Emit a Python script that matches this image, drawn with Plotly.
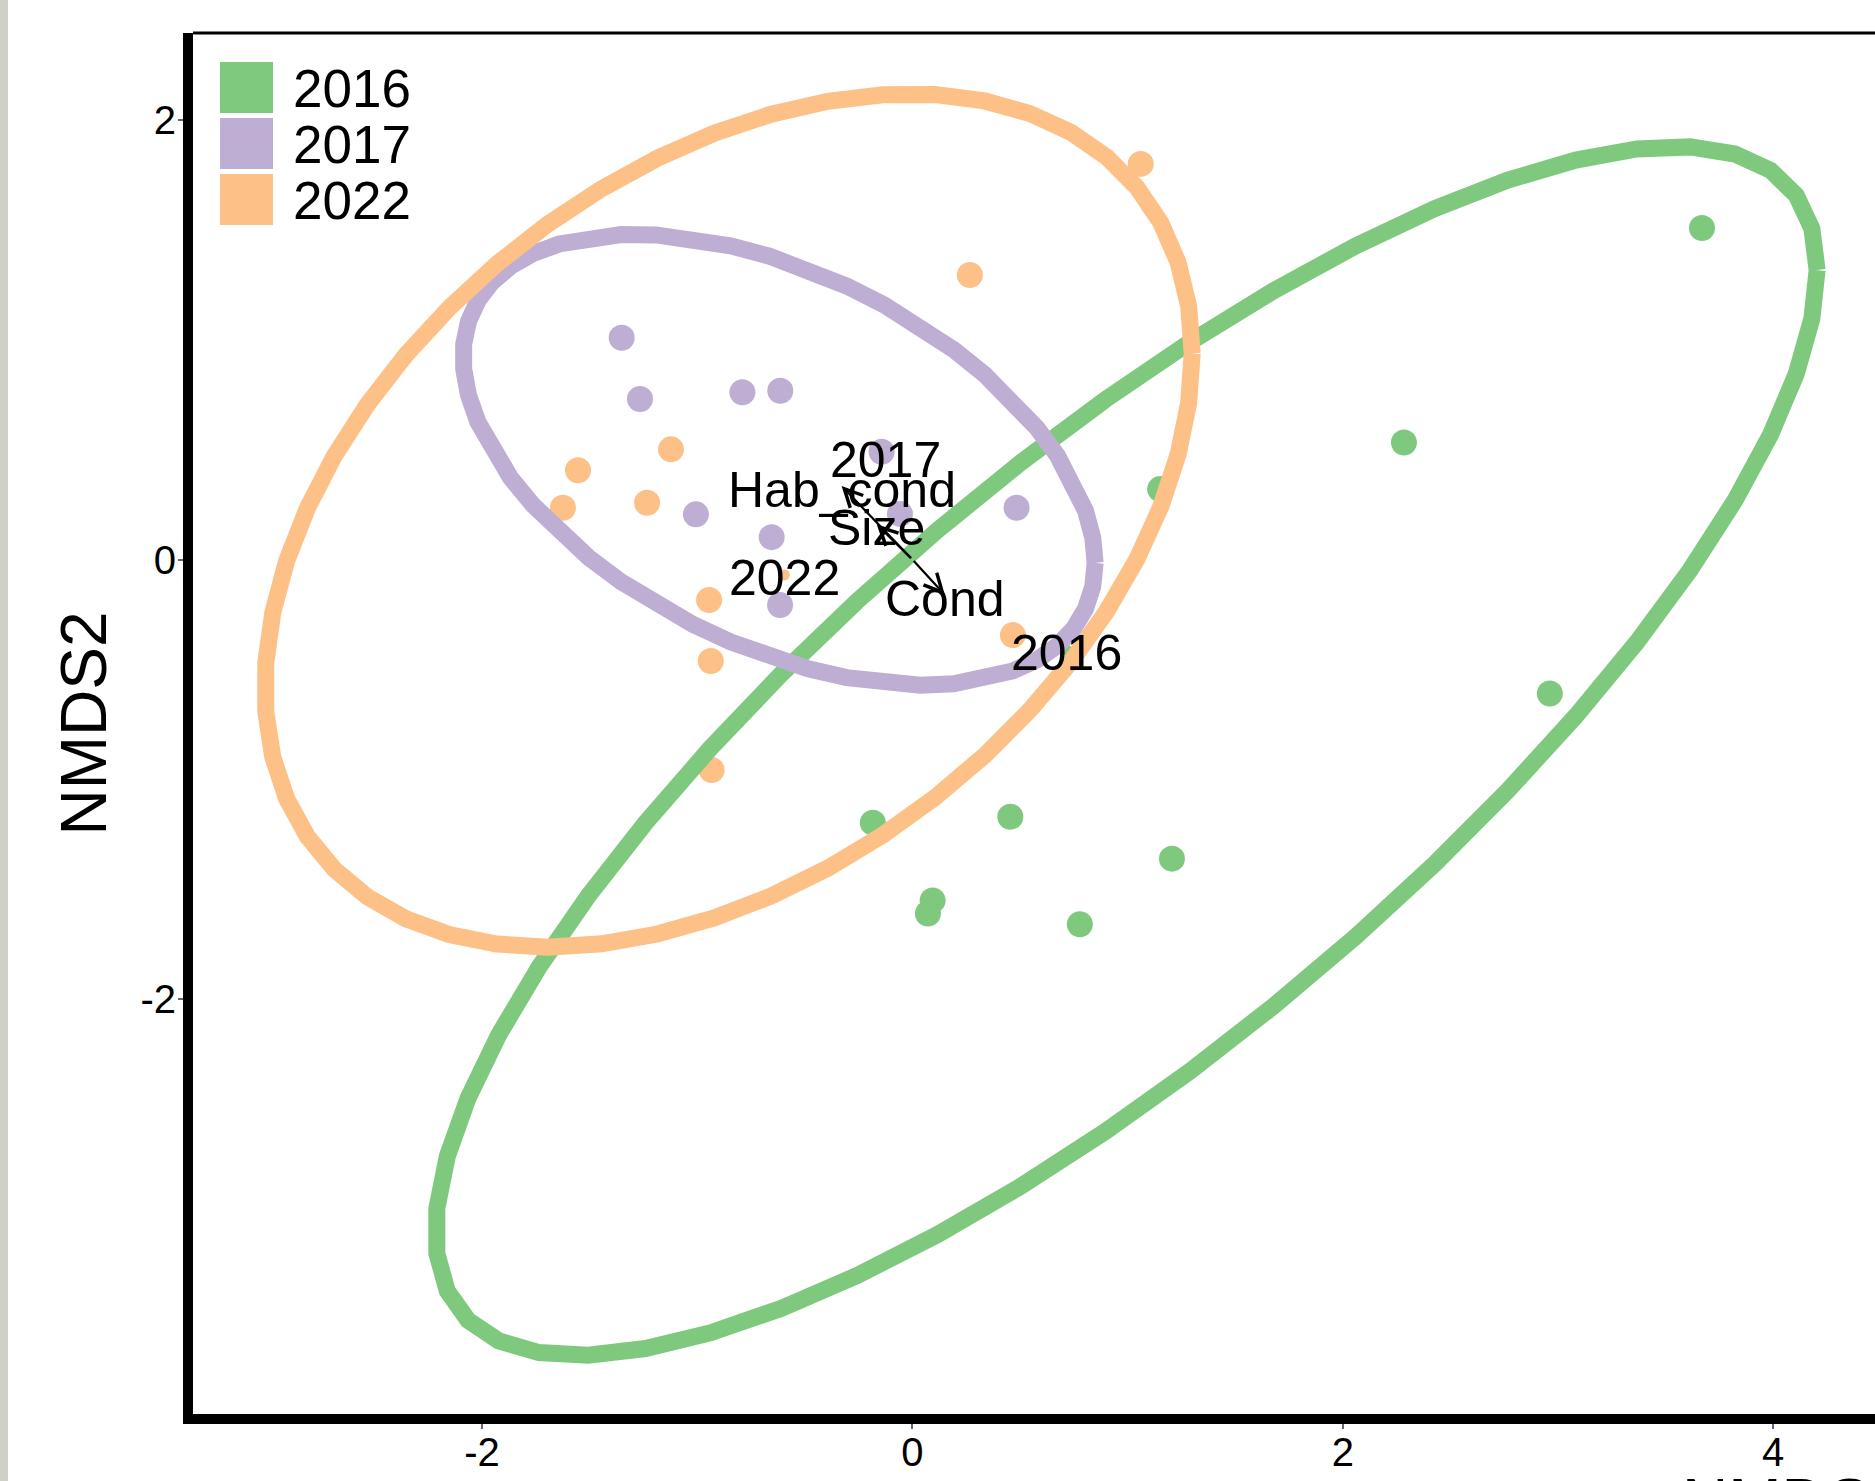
import numpy as np
import plotly.graph_objects as go

# ---- site scores (NMDS1, NMDS2) by survey year ----
years = ["2016", "2017", "2022"]
colors = ["#7FC97F", "#BEAED4", "#FDC086"]

nmds1_2016 = [3.669, 2.284, 2.962, 1.151, -0.184, 0.455, 1.206, 0.094, 0.072, 0.778]
nmds2_2016 = [1.510, 0.533, -0.610, 0.321, -1.198, -1.171, -1.362, -1.552, -1.612, -1.661]

nmds1_2017 = [-1.351, -1.266, -0.790, -0.614, -1.006, -0.654, -0.615, 0.484, -0.143, -0.058]
nmds2_2017 = [1.010, 0.731, 0.762, 0.769, 0.206, 0.102, -0.207, 0.236, 0.491, 0.208]

nmds1_2022 = [1.061, 0.267, -1.122, -1.554, -1.624, -1.233, -0.945, -0.937, -0.933, 0.467]
nmds2_2022 = [1.802, 1.296, 0.502, 0.407, 0.236, 0.259, -0.184, -0.462, -0.958, -0.344]

# ---- year centroids ----
centroid_x = [0.717, -0.127, -0.595]
centroid_y = [-0.412, 0.467, -0.070]

# ---- 95% ellipses: centre and scaled covariance per year ----
ellipse_cx = [0.994, -0.6195, -0.8545]
ellipse_cy = [-0.8715, 0.4548, 0.178]
ellipse_vx = [10.304, 2.1565, 4.642]
ellipse_vy = [7.576, 1.0541, 3.775]
ellipse_cxy = [7.03, -0.69, 1.64]

# ---- environmental vectors (envfit) ----
vector_names = ["Hab_cond", "Size", "Cond"]
vector_x = [-0.329, -0.166, 0.151]
vector_y = [0.335, 0.161, -0.161]

x_ticks = [-2, 0, 2, 4]
y_ticks = [-2, 0, 2]

FONT = "Liberation Sans, Arial, sans-serif"
W, H = 1875, 1481
ML, MR, MT, MB = 193, 0, 33, 67
PW, PH = W - ML - MR, H - MT - MB


def paper_x(px):
    return (px - ML) / PW


def paper_y(py):
    return (H - MB - py) / PH


def ellipse_path(cx, cy, vx, vy, cxy, segments=51):
    """Outline of an ellipse the way stat_ellipse builds it (Cholesky of the covariance)."""
    r = np.linalg.cholesky(np.array([[vx, cxy], [cxy, vy]])).T
    t = np.linspace(0, 2 * np.pi, segments + 1)
    circle = np.column_stack([np.cos(t), np.sin(t)])
    pts = circle @ r + np.array([cx, cy])
    return pts[:, 0], pts[:, 1]


fig = go.Figure()

series = [(nmds1_2016, nmds2_2016), (nmds1_2017, nmds2_2017), (nmds1_2022, nmds2_2022)]
for yr, col, (xs, ys) in zip(years, colors, series):
    fig.add_trace(go.Scatter(
        x=xs, y=ys, mode="markers", name=yr, showlegend=False,
        marker=dict(size=26, color=col, line=dict(width=0)),
    ))

for i, yr in enumerate(years):
    fig.add_trace(go.Scatter(
        x=[centroid_x[i]], y=[centroid_y[i]], mode="markers", showlegend=False,
        marker=dict(size=11, color=colors[i], line=dict(width=0)),
    ))

for i, yr in enumerate(years):
    ex, ey = ellipse_path(ellipse_cx[i], ellipse_cy[i], ellipse_vx[i], ellipse_vy[i], ellipse_cxy[i])
    fig.add_trace(go.Scatter(
        x=ex, y=ey, mode="lines", showlegend=False, hoverinfo="skip",
        line=dict(color=colors[i], width=17),
    ))

annotations = []
# vectors from the origin
for name, vx, vy in zip(vector_names, vector_x, vector_y):
    annotations.append(dict(
        x=vx, y=vy, ax=0, ay=0, xref="x", yref="y", axref="x", ayref="y",
        text="", showarrow=True, arrowhead=5, arrowsize=1.6, arrowwidth=2.2,
        arrowcolor="black", standoff=0, startstandoff=0,
    ))
for name, vx, vy in zip(vector_names, vector_x, vector_y):
    annotations.append(dict(
        x=vx, y=vy, xref="x", yref="y", text=name, showarrow=False, yshift=-4,
        font=dict(family=FONT, size=50, color="black"), xanchor="center", yanchor="middle",
    ))
# year labels at the centroids
for i, yr in enumerate(years):
    annotations.append(dict(
        x=centroid_x[i], y=centroid_y[i], xref="x", yref="y", text=yr, showarrow=False,
        yshift=-3, font=dict(family=FONT, size=50, color="black"),
        xanchor="center", yanchor="middle",
    ))

# axis titles
annotations.append(dict(
    x=paper_x(83), y=0.5, xref="paper", yref="paper", text="NMDS2", showarrow=False,
    textangle=-90, font=dict(family=FONT, size=64, color="black"),
    xanchor="center", yanchor="middle",
))
annotations.append(dict(
    x=paper_x(1680), y=paper_y(1464), xref="paper", yref="paper", text="NMDS1",
    showarrow=False, font=dict(family=FONT, size=64, color="black"),
    xanchor="left", yanchor="top",
))

shapes = []
# key swatches and labels
for i, yr in enumerate(years):
    top = 62 + 56 * i
    shapes.append(dict(
        type="rect", xref="paper", yref="paper",
        x0=paper_x(220), x1=paper_x(273), y0=paper_y(top + 51), y1=paper_y(top),
        fillcolor=colors[i], line=dict(width=0), layer="above",
    ))
    annotations.append(dict(
        x=paper_x(291), y=paper_y(top + 26), xref="paper", yref="paper", text=yr,
        showarrow=False, font=dict(family=FONT, size=53, color="black"),
        xanchor="left", yanchor="middle",
    ))

# thin top frame line
shapes.append(dict(type="line", xref="paper", yref="paper", x0=0, x1=1, y0=1, y1=1,
                   line=dict(color="black", width=3)))
# page edge strip
shapes.append(dict(type="rect", xref="paper", yref="paper",
                   x0=paper_x(0), x1=paper_x(8), y0=paper_y(H), y1=paper_y(0),
                   fillcolor="#D0D0C9", line=dict(width=0)))

fig.update_layout(
    width=W, height=H,
    margin=dict(l=ML, r=MR, t=MT, b=MB, pad=0),
    paper_bgcolor="white", plot_bgcolor="white",
    showlegend=False,
    annotations=annotations, shapes=shapes,
    font=dict(family=FONT, color="black"),
)
fig.update_xaxes(
    range=[-3.343, 4.473], tickvals=x_ticks, ticktext=[str(v) for v in x_ticks],
    showgrid=False, zeroline=False, showline=True, linewidth=10, linecolor="black",
    ticks="outside", ticklen=5, tickwidth=2, tickcolor="#666666", ticklabelstandoff=-11,
    tickfont=dict(family=FONT, size=40, color="black"), mirror=False,
)
fig.update_yaxes(
    range=[-3.891, 2.398], tickvals=y_ticks, ticktext=[str(v) for v in y_ticks],
    showgrid=False, zeroline=False, showline=True, linewidth=10, linecolor="black",
    ticks="outside", ticklen=5, tickwidth=2, tickcolor="#666666", ticklabelstandoff=-6,
    tickfont=dict(family=FONT, size=40, color="black"), mirror=False,
)

fig.write_html("out.html")
